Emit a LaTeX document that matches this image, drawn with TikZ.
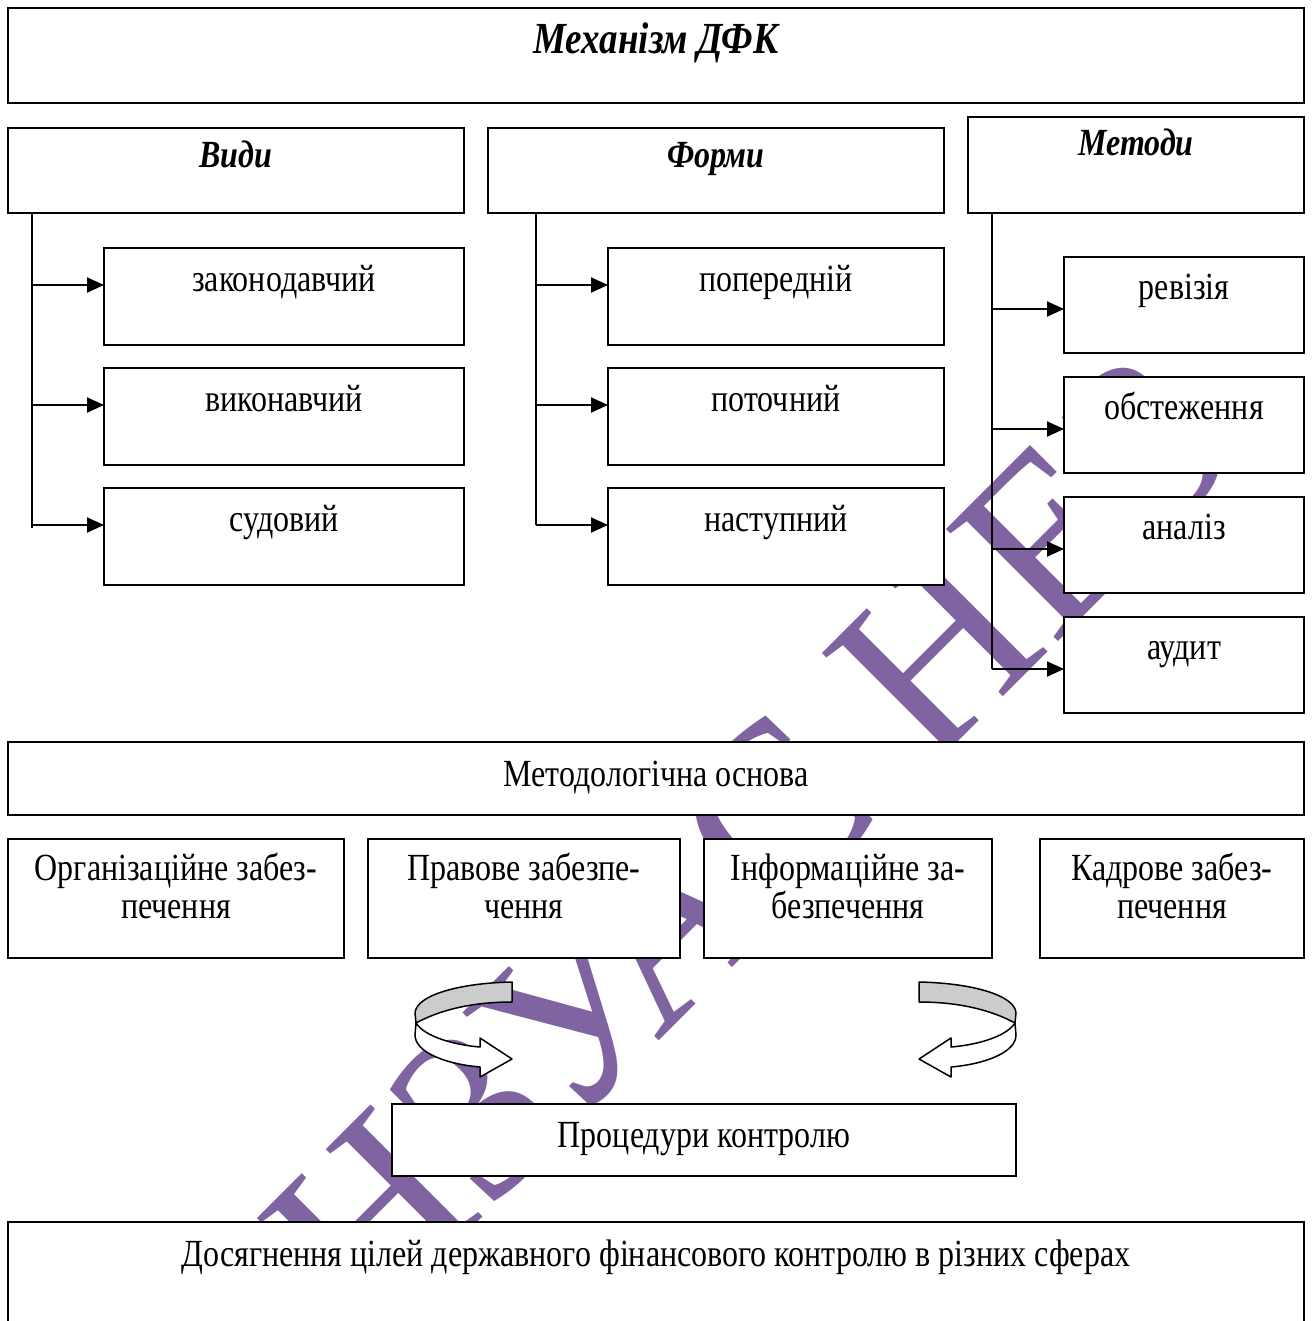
\documentclass[tikz,border=0pt]{standalone}
\usepackage{graphicx}
\usepackage{fontspec}
\setmainfont{Liberation Serif}
\usetikzlibrary{arrows.meta,calc}
\definecolor{wmark}{RGB}{128,100,162}
\definecolor{bandgray}{RGB}{204,204,204}
% slightly tall lettering
\newcommand{\vst}[1]{\scalebox{1}[1.2]{#1}}
% box from its top-left to its bottom-right corner
\newcommand{\bx}[6][]{\node[box,#1,minimum width={(#5-#3)*1pt},minimum height={(#6-#4)*1pt}] (#2) at (#3,#4) {};}
\begin{document}
\begin{tikzpicture}[x=1pt,y=-1pt,
  box/.style={draw,line width=2pt,fill=white,inner sep=0pt,outer sep=0pt,anchor=north west},
  lbl/.style={anchor=base,inner sep=0pt,font=\fontsize{32}{39}\selectfont},
  hd/.style={anchor=base,inner sep=0pt,font=\fontsize{32}{39}\selectfont\bfseries\itshape},
  trunk/.style={line width=2pt},
  arr/.style={line width=2pt,-{Triangle[length=17pt,width=15pt]}},
  band/.style={line width=1.5pt,line join=round},
  uturn/.pic={
    \draw[band,fill=bandgray] (0,0) .. controls (-52,1) and (-96,13) .. (-97,31)
      -- (-96,41) .. controls (-72,28) and (-40,20) .. (0,20) -- cycle;
    \draw[band,fill=white] (-96,41) .. controls (-87,55) and (-57,63) .. (-32,65)
      -- (-32,56) -- (0,77) -- (-32,95) -- (-32,85)
      .. controls (-67,82) and (-97,70) .. (-97,53) -- cycle;
  }]
\useasboundingbox (0,0) rectangle (1312,1321);
\clip (0,0) rectangle (1312,1321);
\fill[white] (0,0) rectangle (1312,1321);

% diagonal watermark
\node[rotate=45,anchor=base,inner sep=0pt,text=wmark,font=\fontsize{242}{242}\selectfont] (wm) at (805,895) {НЗУАС НЕЗ};

% boxes
\bx{mech}{8}{8}{1304}{103}
\bx{vydy}{8}{128}{464}{213}
\bx{formy}{488}{128}{944}{213}
\bx{metody}{968}{117}{1304}{213}
\bx{v1}{104}{248}{464}{345}
\bx{v2}{104}{368}{464}{465}
\bx{v3}{104}{488}{464}{585}
\bx{f1}{608}{248}{944}{345}
\bx{f2}{608}{368}{944}{465}
\bx{f3}{608}{488}{944}{585}
\bx{m1}{1064}{257}{1304}{353}
\bx{m2}{1064}{377}{1304}{473}
\bx{m3}{1064}{497}{1304}{593}
\bx{m4}{1064}{617}{1304}{713}
\bx{osn}{8}{742}{1304}{815}
\bx{s1}{8}{839}{344}{958}
\bx{s2}{368}{839}{680}{958}
\bx{s3}{704}{839}{992}{958}
\bx{s4}{1040}{839}{1304}{958}
\bx{proc}{392}{1104}{1016}{1176}
\bx{goal}{8}{1222}{1304}{1345}

% branching connectors
\coordinate (vt) at ($(vydy.south west)+(24,0)$);
\coordinate (ft) at ($(formy.south west)+(48,0)$);
\coordinate (mt) at ($(metody.south west)+(24,0)$);
\foreach \b in {v1,v2,v3,f1,f2,f3} {\coordinate (\b a) at ($(\b.north west)+(0,37)$);}
\foreach \b in {m1,m2,m3,m4} {\coordinate (\b a) at ($(\b.north west)+(0,52)$);}
\draw[trunk] (vt) -- ($(vt |- v3a)+(0,3)$);
\draw[trunk] (ft) -- (ft |- f3a);
\draw[trunk] (mt) -- (mt |- m4a);
\foreach \b in {v1,v2,v3} {\draw[arr] (vt |- \b a) -- (\b a);}
\foreach \b in {f1,f2,f3} {\draw[arr] (ft |- \b a) -- (\b a);}
\foreach \b in {m1,m2,m3,m4} {\draw[arr] (mt |- \b a) -- (\b a);}

% turning arrows
\pic at (512,982) {uturn};
\pic[xscale=-1] at (919,982) {uturn};

% texts
\node[hd,font=\fontsize{37}{44}\selectfont\bfseries\itshape] (t-mech) at ($(mech.north)+(0,46)$) {\vst{Механізм ДФК}};
\node[hd] (t-vydy) at ($(vydy.north)+(0,40)$) {\vst{Види}};
\node[hd] (t-formy) at ($(formy.north)+(0,40)$) {\vst{Форми}};
\node[hd] (t-metody) at ($(metody.north)+(0,39)$) {\vst{Методи}};
\node[lbl] (t-v1) at ($(v1.north)+(0,43)$) {\vst{законодавчий}};
\node[lbl] (t-v2) at ($(v2.north)+(0,43)$) {\vst{виконавчий}};
\node[lbl] (t-v3) at ($(v3.north)+(0,43)$) {\vst{судовий}};
\node[lbl] (t-f1) at ($(f1.north)+(0,43)$) {\vst{попередній}};
\node[lbl] (t-f2) at ($(f2.north)+(0,43)$) {\vst{поточний}};
\node[lbl] (t-f3) at ($(f3.north)+(0,43)$) {\vst{наступний}};
\node[lbl] (t-m1) at ($(m1.north)+(0,42)$) {\vst{ревізія}};
\node[lbl] (t-m2) at ($(m2.north)+(0,42)$) {\vst{обстеження}};
\node[lbl] (t-m3) at ($(m3.north)+(0,42)$) {\vst{аналіз}};
\node[lbl] (t-m4) at ($(m4.north)+(0,42)$) {\vst{аудит}};
\node[lbl] (t-osn) at ($(osn.north)+(0,44)$) {\vst{Методологічна основа}};
\node[lbl] (t-s1a) at ($(s1.north)+(0,41)$) {\vst{Організаційне забез-}};
\node[lbl] (t-s1b) at ($(s1.north)+(0,79)$) {\vst{печення}};
\node[lbl] (t-s2a) at ($(s2.north)+(0,41)$) {\vst{Правове забезпе-}};
\node[lbl] (t-s2b) at ($(s2.north)+(0,79)$) {\vst{чення}};
\node[lbl] (t-s3a) at ($(s3.north)+(0,41)$) {\vst{Інформаційне за-}};
\node[lbl] (t-s3b) at ($(s3.north)+(0,79)$) {\vst{безпечення}};
\node[lbl] (t-s4a) at ($(s4.north)+(0,41)$) {\vst{Кадрове забез-}};
\node[lbl] (t-s4b) at ($(s4.north)+(0,79)$) {\vst{печення}};
\node[lbl] (t-proc) at ($(proc.north)+(0,43)$) {\vst{Процедури контролю}};
\node[lbl] (t-goal) at ($(goal.north)+(0,44)$) {\vst{Досягнення цілей державного фінансового контролю в різних сферах}};
\end{tikzpicture}
\end{document}
